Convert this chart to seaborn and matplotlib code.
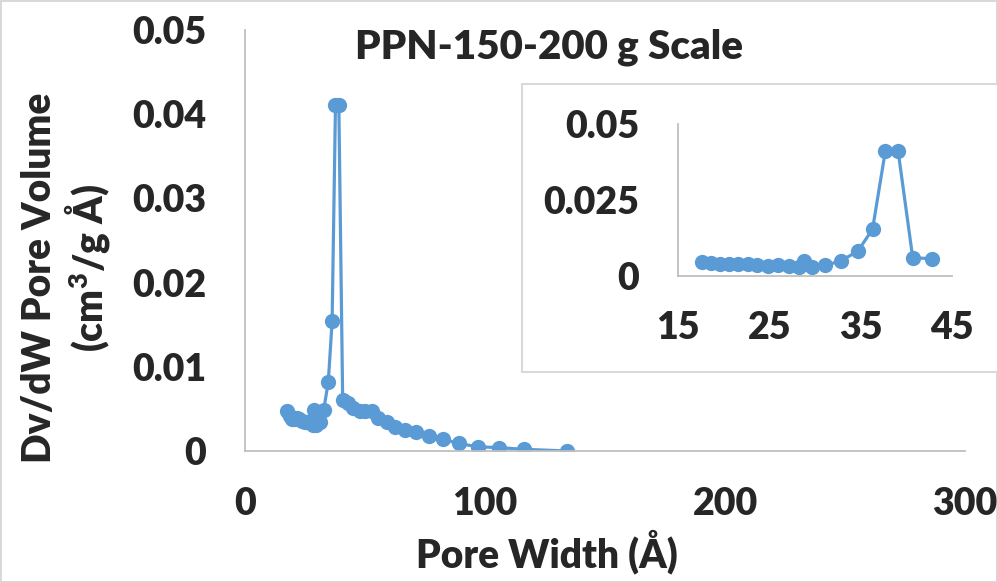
import matplotlib
matplotlib.use("Agg")
import matplotlib.pyplot as plt
import seaborn as sns
import pandas as pd
from matplotlib.patches import Rectangle

sns.set_style("white")
plt.rcParams['font.family'] = ['Lato', 'DejaVu Sans']
plt.rcParams['font.weight'] = 'heavy'
plt.rcParams['mathtext.fontset'] = 'custom'
plt.rcParams['mathtext.rm'] = 'Lato:heavy'
plt.rcParams['mathtext.bf'] = 'Lato:heavy'

# Data
pore_width = [17.6, 18.6, 19.6, 20.6, 21.6, 22.7, 23.7, 24.8, 25.9, 27.1, 28.2, 28.8,
              29.7, 31.1, 32.8, 34.7, 36.3, 37.7, 39.1, 40.7, 42.8, 45.1, 47.9, 50.0,
              52.8, 55.5, 59.0, 62.5, 66.7, 71.3, 76.7, 82.4, 89.0, 97.0, 106.0, 116.3, 134.3]
pore_volume = [0.0047, 0.0042, 0.0038, 0.0038, 0.0039, 0.0038, 0.0036, 0.0034, 0.0035,
               0.0034, 0.0031, 0.0049, 0.0031, 0.0035, 0.0049, 0.0082, 0.0154, 0.0411,
               0.0411, 0.0060, 0.0057, 0.0051, 0.0048, 0.0048, 0.0047, 0.0039, 0.0034,
               0.0029, 0.0025, 0.0022, 0.0018, 0.0014, 0.0009, 0.0005, 0.0004, 0.0002, 0.0000]
main_xticks = [0, 100, 200, 300]
main_yticks = [0, 0.01, 0.02, 0.03, 0.04, 0.05]
main_yticklabels = ["0", "0.01", "0.02", "0.03", "0.04", "0.05"]
inset_xticks = [15, 25, 35, 45]
inset_yticks = [0, 0.025, 0.05]
inset_yticklabels = ["0", "0.025", "0.05"]

df = pd.DataFrame({"w": pore_width, "v": pore_volume})
df_in = df[df["w"] <= 45]

color = "#5B9BD5"
spine_c = "#BFBFBF"
FW = "heavy"
TS = 27

fig = plt.figure(figsize=(9.97, 5.82), dpi=100)
fig.patch.set_edgecolor("#D9D9D9")
fig.patch.set_linewidth(2)

ax = fig.add_axes([245/997, 1-451/582, (965-245)/997, (451-30)/582])
sns.lineplot(data=df, x="w", y="v", ax=ax, color=color, linewidth=2.3, marker="o",
             markersize=11, markeredgewidth=0, sort=False)
ax.set_xlim(0, 300)
ax.set_ylim(0, 0.05)
ax.set_xticks(main_xticks)
ax.set_xticklabels([str(t) for t in main_xticks])
ax.set_yticks(main_yticks)
ax.set_yticklabels(main_yticklabels)
for s in ["top", "right"]:
    ax.spines[s].set_visible(False)
for s in ["left", "bottom"]:
    ax.spines[s].set_color(spine_c)
    ax.spines[s].set_linewidth(1.3)
ax.tick_params(axis="both", length=0, labelsize=TS)
ax.tick_params(axis="x", pad=26)
ax.tick_params(axis="y", pad=28)
for lab in ax.get_xticklabels() + ax.get_yticklabels():
    lab.set_fontweight(FW)
ax.set_xlabel("")
ax.set_ylabel("")

fig.text(547/997, 1-567/582, "Pore Width (Å)", ha="center", va="baseline",
         fontsize=28, fontweight=FW)
fig.text(51/997, 1-278/582, "Dv/dW Pore Volume", ha="center", va="baseline",
         rotation=90, rotation_mode="anchor", fontsize=28, fontweight=FW)
fig.text(102/997, 1-268/582, r"(cm$^{\mathbf{3}}$/g Å)", ha="center", va="baseline",
         rotation=90, rotation_mode="anchor", fontsize=28, fontweight=FW)
fig.text(549/997, 1-58/582, "PPN-150-200 g Scale", ha="center", va="baseline",
         fontsize=29, fontweight=FW)

# Inset frame
rect = Rectangle((522/997, 1-372/582), 1.0, (372-84)/582, transform=fig.transFigure,
                 facecolor="white", edgecolor="#D9D9D9", linewidth=1.5, zorder=3)
fig.patches.append(rect)

axi = fig.add_axes([678/997, 1-276/582, (952-678)/997, (276-124)/582], zorder=5)
sns.lineplot(data=df_in, x="w", y="v", ax=axi, color=color, linewidth=2.3, marker="o",
             markersize=11, markeredgewidth=0, sort=False)
axi.set_xlim(15, 45)
axi.set_ylim(0, 0.05)
axi.set_xticks(inset_xticks)
axi.set_xticklabels([str(t) for t in inset_xticks])
axi.set_yticks(inset_yticks)
axi.set_yticklabels(inset_yticklabels)
for s in ["top", "right"]:
    axi.spines[s].set_visible(False)
for s in ["left", "bottom"]:
    axi.spines[s].set_color(spine_c)
    axi.spines[s].set_linewidth(1.3)
axi.tick_params(axis="both", length=0, labelsize=TS)
axi.tick_params(axis="x", pad=25)
axi.tick_params(axis="y", pad=28)
for lab in axi.get_xticklabels() + axi.get_yticklabels():
    lab.set_fontweight(FW)
axi.set_xlabel("")
axi.set_ylabel("")
axi.patch.set_alpha(0)

fig.savefig("out.png", dpi=100)
